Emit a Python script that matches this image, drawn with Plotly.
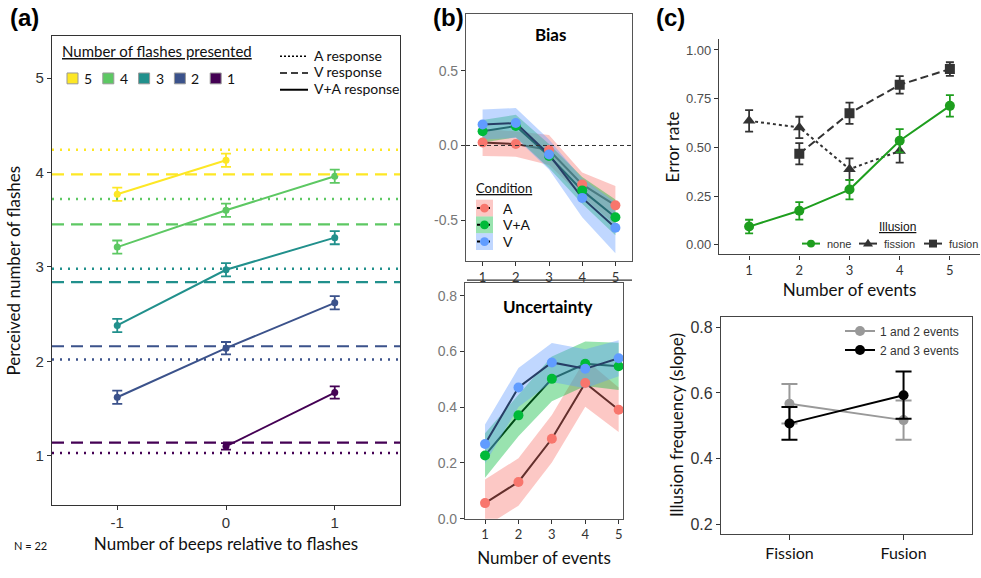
import plotly.graph_objects as go

# ---------------- DATA ----------------
# Panel (a)
beeps = [-1, 0, 1]
flash_levels = ["5", "4", "3", "2", "1"]
resp_5 = [3.77, 4.13, None]
resp_4 = [3.21, 3.60, 3.96]
resp_3 = [2.38, 2.97, 3.31]
resp_2 = [1.62, 2.14, 2.62]
resp_1 = [None, 1.10, 1.67]
se_5 = [0.07, 0.07, None]
se_4 = [0.07, 0.07, 0.07]
se_3 = [0.07, 0.07, 0.07]
se_2 = [0.07, 0.065, 0.07]
se_1 = [None, 0.035, 0.065]
a_response = [4.24, 3.72, 2.98, 2.02, 1.03]   # dotted, per flash level 5..1
v_response = [3.98, 3.45, 2.84, 2.16, 1.14]   # dashed, per flash level 5..1
response_types = ["A response", "V response", "V+A response"]

# Panel (b)
events = [1, 2, 3, 4, 5]
conditions = ["A", "V+A", "V"]
bias_A = [0.02, 0.01, -0.03, -0.26, -0.40]
bias_VA = [0.095, 0.13, -0.07, -0.30, -0.48]
bias_V = [0.14, 0.15, -0.06, -0.35, -0.55]
bias_A_ci = [0.09, 0.085, 0.10, 0.08, 0.13]
bias_VA_ci = [0.075, 0.075, 0.08, 0.09, 0.12]
bias_V_ci = [0.10, 0.10, 0.10, 0.13, 0.17]
unc_A = [0.056, 0.132, 0.287, 0.487, 0.391]
unc_VA = [0.227, 0.371, 0.502, 0.556, 0.547]
unc_V = [0.268, 0.471, 0.561, 0.538, 0.576]
unc_A_ci = [0.085, 0.085, 0.085, 0.085, 0.08]
unc_VA_ci = [0.08, 0.075, 0.08, 0.08, 0.085]
unc_V_ci = [0.07, 0.07, 0.07, 0.07, 0.065]

# Panel (c) top
illusion_kinds = ["none", "fission", "fusion"]
err_none_x = [1, 2, 3, 4, 5]
err_none = [0.093, 0.174, 0.283, 0.534, 0.713]
err_none_se = [0.035, 0.045, 0.05, 0.06, 0.055]
err_fission_x = [1, 2, 3, 4]
err_fission = [0.636, 0.602, 0.388, 0.481]
err_fission_se = [0.055, 0.055, 0.055, 0.06]
err_fusion_x = [2, 3, 4, 5]
err_fusion = [0.467, 0.675, 0.821, 0.902]
err_fusion_se = [0.055, 0.055, 0.045, 0.035]

# Panel (c) bottom
illusion_types = ["Fission", "Fusion"]
slope_12 = [0.567, 0.517]
slope_12_se = [0.06, 0.06]
slope_23 = [0.507, 0.593]
slope_23_se = [0.05, 0.072]

# ---------------- STYLE ----------------
W, H = 981, 578
viridis = {"5": "#FDE725", "4": "#5DC863", "3": "#21908C", "2": "#3B528B", "1": "#440154"}
cond_col = {"A": "#F8766D", "V+A": "#00BA38", "V": "#619CFF"}
cond_fill = {"A": "rgba(248,118,109,0.40)", "V+A": "rgba(0,186,56,0.40)", "V": "rgba(97,156,255,0.40)"}
TXT = "Lato"
NUM = "Liberation Sans"
AX = "#333333"
DOT = "2px,6px"
DASH = "12px,7px"
GREEN = "#1E9E1E"
DARK = "#333333"


def px(x):
    return x / W


def py(y):
    return 1 - y / H


def dom_x(x0, x1):
    return [x0 / W, x1 / W]


def dom_y(y0, y1):
    return [1 - y1 / H, 1 - y0 / H]


fig = go.Figure()
shapes = []
ann = []

# ---------------- PANEL (a) ----------------
resp = {"5": resp_5, "4": resp_4, "3": resp_3, "2": resp_2, "1": resp_1}
ses = {"5": se_5, "4": se_4, "3": se_3, "2": se_2, "1": se_1}
for lvl in flash_levels:
    c = viridis[lvl]
    fig.add_trace(go.Scatter(
        x=beeps, y=resp[lvl], mode="lines+markers", xaxis="x", yaxis="y",
        line=dict(color=c, width=2), marker=dict(color=c, size=7, symbol="circle"),
        error_y=dict(type="data", array=ses[lvl], color=c, thickness=1.8, width=5),
        showlegend=False, connectgaps=False))
for i, lvl in enumerate(flash_levels):
    c = viridis[lvl]
    shapes.append(dict(type="line", xref="x domain", yref="y", x0=0, x1=1,
                       y0=a_response[i], y1=a_response[i],
                       line=dict(color=c, width=2.5, dash=DOT)))
    shapes.append(dict(type="line", xref="x domain", yref="y", x0=0, x1=1,
                       y0=v_response[i], y1=v_response[i],
                       line=dict(color=c, width=2.2, dash=DASH)))

# legend (a): colour keys
ann.append(dict(text="<u>Number of flashes presented</u>", x=px(60), y=py(52), xanchor="left", yanchor="middle",
                font=dict(family=TXT, size=15, color="#111")))
for i, lvl in enumerate(flash_levels):
    x0 = 67 + 35.8 * i
    shapes.append(dict(type="rect", xref="paper", yref="paper", x0=px(x0), x1=px(x0 + 11),
                       y0=py(85), y1=py(74), fillcolor=viridis[lvl], line=dict(color="#999", width=1)))
    ann.append(dict(text=lvl, x=px(x0 + 15), y=py(80), xanchor="left", yanchor="middle",
                    font=dict(family=TXT, size=14, color="#111")))
# legend (a): line-type keys
for i, (nm, dsh) in enumerate(zip(response_types, ["2px,2px", "7px,4px", "solid"])):
    yc = 57 + 17 * i
    shapes.append(dict(type="line", xref="paper", yref="paper", x0=px(280), x1=px(308), y0=py(yc), y1=py(yc),
                       line=dict(color="black", width=2 if dsh == "solid" else 1.6, dash=dsh)))
    ann.append(dict(text=nm, x=px(312), y=py(yc - 1), xanchor="left", yanchor="middle",
                    font=dict(family=TXT, size=14, color="#111")))

# ---------------- PANEL (b) ----------------
bias = {"A": (bias_A, bias_A_ci), "V+A": (bias_VA, bias_VA_ci), "V": (bias_V, bias_V_ci)}
unc = {"A": (unc_A, unc_A_ci), "V+A": (unc_VA, unc_VA_ci), "V": (unc_V, unc_V_ci)}
for data, xa, ya in [(bias, "x2", "y2"), (unc, "x3", "y3")]:
    for cnd in conditions:
        m, ci = data[cnd]
        up = [a + b for a, b in zip(m, ci)]
        lo = [a - b for a, b in zip(m, ci)]
        fig.add_trace(go.Scatter(x=events, y=m, mode="lines", xaxis=xa, yaxis=ya,
                                 line=dict(color="black", width=2), showlegend=False))
        fig.add_trace(go.Scatter(x=events + events[::-1], y=up + lo[::-1], mode="lines",
                                 fill="toself", fillcolor=cond_fill[cnd], line=dict(width=0),
                                 xaxis=xa, yaxis=ya, showlegend=False, hoverinfo="skip"))
    for cnd in conditions:
        m, ci = data[cnd]
        fig.add_trace(go.Scatter(x=events, y=m, mode="markers", xaxis=xa, yaxis=ya,
                                 marker=dict(color=cond_col[cnd], size=10), showlegend=False))
shapes.append(dict(type="line", xref="x2 domain", yref="y2", x0=0, x1=1, y0=0, y1=0,
                   line=dict(color="#333", width=1, dash="4px,3px")))
# separator line above the Uncertainty facet
shapes.append(dict(type="line", xref="paper", yref="paper", x0=px(467), x1=px(632), y0=py(284), y1=py(284),
                   line=dict(color="#333", width=1.2)))

# legend (b)
ann.append(dict(text="<u>Condition</u>", x=px(474), y=py(191), xanchor="left", yanchor="middle",
                font=dict(family=TXT, size=13, color="#111")))
for i, cnd in enumerate(conditions):
    yc = 211 + 17 * i
    shapes.append(dict(type="rect", xref="paper", yref="paper", x0=px(476), x1=px(493),
                       y0=py(yc + 8.5), y1=py(yc - 8.5), fillcolor=cond_fill[cnd], line=dict(width=0)))
    shapes.append(dict(type="line", xref="paper", yref="paper", x0=px(477), x1=px(492),
                       y0=py(yc), y1=py(yc), line=dict(color="black", width=2, dash="3px,2px")))
    shapes.append(dict(type="circle", xref="paper", yref="paper", x0=px(480), x1=px(489),
                       y0=py(yc + 4.5), y1=py(yc - 4.5), fillcolor=cond_col[cnd], line=dict(width=0)))
    ann.append(dict(text=cnd, x=px(501), y=py(yc), xanchor="left", yanchor="middle",
                    font=dict(family=TXT, size=14, color="#111")))

# ---------------- PANEL (c) top ----------------
fig.add_trace(go.Scatter(x=err_fission_x, y=err_fission, mode="lines+markers", name="fission",
                         xaxis="x4", yaxis="y4", line=dict(color=DARK, width=2, dash="3px,3px"),
                         marker=dict(symbol="triangle-up", size=11, color=DARK),
                         error_y=dict(type="data", array=err_fission_se, color=DARK, thickness=1.8, width=4),
                         showlegend=False))
fig.add_trace(go.Scatter(x=err_fusion_x, y=err_fusion, mode="lines+markers", name="fusion",
                         xaxis="x4", yaxis="y4", line=dict(color=DARK, width=2, dash="8px,4px"),
                         marker=dict(symbol="square", size=10, color=DARK),
                         error_y=dict(type="data", array=err_fusion_se, color=DARK, thickness=1.8, width=4),
                         showlegend=False))
fig.add_trace(go.Scatter(x=err_none_x, y=err_none, mode="lines+markers", name="none",
                         xaxis="x4", yaxis="y4", line=dict(color=GREEN, width=2),
                         marker=dict(symbol="circle", size=10, color=GREEN),
                         error_y=dict(type="data", array=err_none_se, color=GREEN, thickness=1.8, width=4),
                         showlegend=False))

# legend (c top), drawn as keys
ann.append(dict(text="<u>Illusion</u>", x=px(897), y=py(230), xanchor="center", yanchor="middle",
                font=dict(family=NUM, size=12, color="#111")))
key_x = [802, 859, 924]
key_col = [GREEN, DARK, DARK]
for i, nm in enumerate(illusion_kinds):
    x0 = key_x[i]
    xc = x0 + 9
    yc = 247
    shapes.append(dict(type="line", xref="paper", yref="paper", x0=px(x0), x1=px(x0 + 18), y0=py(yc), y1=py(yc),
                       line=dict(color=key_col[i], width=2)))
    if nm == "none":
        shapes.append(dict(type="circle", xref="paper", yref="paper", x0=px(xc - 4), x1=px(xc + 4),
                           y0=py(yc + 4), y1=py(yc - 4), fillcolor=key_col[i], line=dict(width=0)))
    elif nm == "fission":
        path = "M {} {} L {} {} L {} {} Z".format(px(xc - 5), py(yc + 3), px(xc + 5), py(yc + 3), px(xc), py(yc - 5))
        shapes.append(dict(type="path", xref="paper", yref="paper", path=path,
                           fillcolor=key_col[i], line=dict(width=0)))
    else:
        shapes.append(dict(type="rect", xref="paper", yref="paper", x0=px(xc - 4), x1=px(xc + 4),
                           y0=py(yc + 4), y1=py(yc - 4), fillcolor=key_col[i], line=dict(width=0)))
    ann.append(dict(text=nm, x=px(x0 + 23), y=py(yc), xanchor="left", yanchor="middle",
                    font=dict(family=NUM, size=11, color="#333")))

# ---------------- PANEL (c) bottom ----------------
fig.add_trace(go.Scatter(x=[1, 2], y=slope_12, mode="lines+markers", name="1 and 2 events",
                         xaxis="x5", yaxis="y5", line=dict(color="#999999", width=2),
                         marker=dict(size=10, color="#999999"),
                         error_y=dict(type="data", array=slope_12_se, color="#999999", thickness=2, width=8),
                         legend="legend"))
fig.add_trace(go.Scatter(x=[1, 2], y=slope_23, mode="lines+markers", name="2 and 3 events",
                         xaxis="x5", yaxis="y5", line=dict(color="black", width=2),
                         marker=dict(size=10, color="black"),
                         error_y=dict(type="data", array=slope_23_se, color="black", thickness=2, width=8),
                         legend="legend"))

# ---------------- AXES ----------------
def ax(**kw):
    base = dict(showgrid=False, zeroline=False, showline=True, linecolor=AX, linewidth=1.2,
                ticks="outside", ticklen=4, tickcolor=AX, tickwidth=1.2)
    base.update(kw)
    return base


fig.update_layout(
    xaxis=ax(domain=dom_x(52, 400), anchor="y", range=[-1.6, 1.6], mirror=True,
             tickvals=beeps, ticktext=["-1", "0", "1"], tickfont=dict(family=NUM, size=15, color="#333"),
             title=dict(text="Number of beeps relative to flashes", font=dict(family=TXT, size=17, color="#111"), standoff=8)),
    yaxis=ax(domain=dom_y(37, 512), anchor="x", range=[0.48, 5.44], mirror=True,
             tickvals=[1, 2, 3, 4, 5], tickfont=dict(family=NUM, size=15, color="#333"),
             title=dict(text="Perceived number of flashes", font=dict(family=TXT, size=17, color="#111"), standoff=10)),
    xaxis2=ax(domain=dom_x(466, 632), anchor="y2", range=[0.5, 5.5], mirror=True, linecolor="#555",
              tickvals=events, tickfont=dict(family=TXT, size=13, color="#333")),
    yaxis2=ax(domain=dom_y(14, 265), anchor="x2", range=[-0.774, 0.88], mirror=True, linecolor="#555",
              tickvals=[-0.5, 0, 0.5], ticktext=["-0.5", "0.0", "0.5"],
              tickfont=dict(family=NUM, size=14, color="#777")),
    xaxis3=ax(domain=dom_x(465, 623), anchor="y3", range=[0.4, 5.13], mirror=True, linecolor="#555",
              tickvals=events, tickfont=dict(family=TXT, size=13, color="#333"),
              title=dict(text="Number of events", font=dict(family=TXT, size=17, color="#111"), standoff=10)),
    yaxis3=ax(domain=dom_y(287, 526), anchor="x3", range=[0, 0.846], mirror=True, linecolor="#555",
              tickvals=[0, 0.2, 0.4, 0.6, 0.8], ticktext=["0.0", "0.2", "0.4", "0.6", "0.8"],
              tickfont=dict(family=NUM, size=14, color="#777")),
    xaxis4=ax(domain=dom_x(719, 980), anchor="y4", range=[0.4, 5.6], linecolor="#444",
              tickvals=events, tickfont=dict(family=TXT, size=13, color="#333"),
              title=dict(text="Number of events", font=dict(family=TXT, size=17, color="#111"), standoff=6)),
    yaxis4=ax(domain=dom_y(40, 258), anchor="x4", range=[-0.05, 1.054], linecolor="#444",
              tickvals=[0, 0.25, 0.5, 0.75, 1.0], ticktext=["0.00", "0.25", "0.50", "0.75", "1.00"],
              tickfont=dict(family=NUM, size=13, color="#4D4D4D"),
              title=dict(text="Error rate", font=dict(family=TXT, size=17, color="#111"), standoff=2)),
    xaxis5=ax(domain=dom_x(721, 972), anchor="y5", range=[0.4, 2.6], mirror=True, linecolor="#444",
              tickvals=[1, 2], ticktext=illusion_types, ticklen=5,
              tickfont=dict(family=TXT, size=16, color="#111")),
    yaxis5=ax(domain=dom_y(321, 541), anchor="x5", range=[0.171, 0.833], mirror=True, linecolor="#444",
              tickvals=[0.2, 0.4, 0.6, 0.8], ticktext=["0.2", "0.4", "0.6", "0.8"],
              tickfont=dict(family=NUM, size=16, color="#333"),
              title=dict(text="Illusion frequency (slope)", font=dict(family=TXT, size=17, color="#111"), standoff=2)),
)

# ---------------- LEGEND (c bottom) ----------------
fig.update_layout(
    legend=dict(x=px(840), y=py(321), xanchor="left", yanchor="top", orientation="v",
                font=dict(family=NUM, size=12, color="#333"), bgcolor="rgba(0,0,0,0)",
                itemwidth=30, tracegroupgap=0),
)

# ---------------- ANNOTATIONS ----------------
ann += [
    dict(text="<b>(a)</b>", x=px(8), y=py(18), xanchor="left", yanchor="middle", font=dict(family=NUM, size=24, color="black")),
    dict(text="<b>(b)</b>", x=px(431), y=py(18), xanchor="left", yanchor="middle", font=dict(family=NUM, size=24, color="black")),
    dict(text="<b>(c)</b>", x=px(654), y=py(18), xanchor="left", yanchor="middle", font=dict(family=NUM, size=24, color="black")),
    dict(text="N = 22", x=px(12), y=py(553), xanchor="left", yanchor="middle", font=dict(family=TXT, size=11, color="#111")),
    dict(text="<b>Bias</b>", x=px(550), y=py(35), xanchor="center", yanchor="middle", font=dict(family=TXT, size=17, color="black")),
    dict(text="<b>Uncertainty</b>", x=px(547), y=py(311), xanchor="center", yanchor="middle", font=dict(family=TXT, size=17, color="black")),
]
for a in ann:
    a.update(xref="paper", yref="paper", showarrow=False)
fig.update_layout(annotations=ann, shapes=shapes)

fig.update_layout(width=W, height=H, margin=dict(l=0, r=0, t=0, b=0),
                  plot_bgcolor="white", paper_bgcolor="white", showlegend=True)

fig.write_html("out.html", config={"displayModeBar": False},
               post_script="document.body.style.margin='0';document.body.style.overflow='hidden';")
